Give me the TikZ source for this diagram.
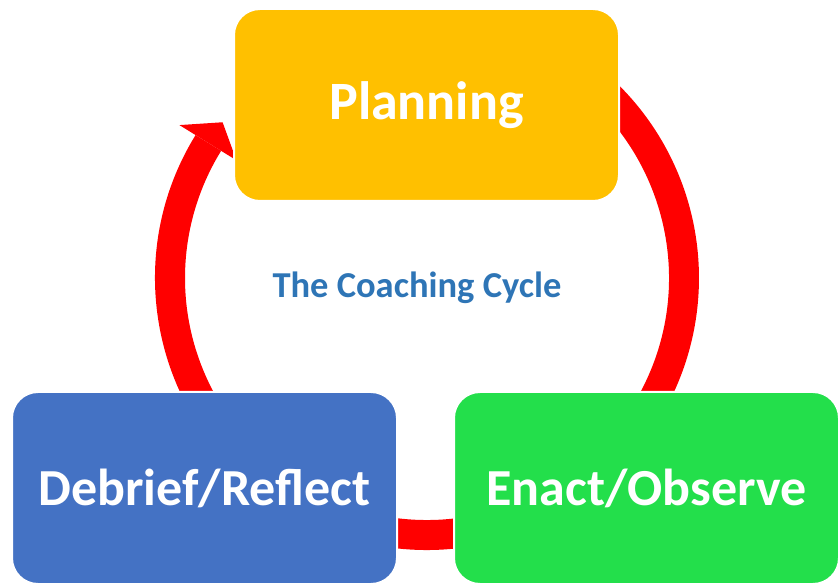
\documentclass[tikz,border=0pt]{standalone}
\usepackage{fontspec}
\setmainfont{Carlito}
\usetikzlibrary{calc}
\begin{document}
\begin{tikzpicture}[x=1pt,y=1pt,
  stage/.style={rounded corners=26pt, draw=white, line width=2pt,
    minimum width=385pt, minimum height=192pt, inner sep=0pt,
    text=white, font=\bfseries\fontsize{52}{60}\selectfont},
  ring/.style={fill=red}]
\useasboundingbox (0,0) rectangle (838,584);
% cycle ring with arrowhead, centre (427,306)
\coordinate (c) at (427,306);
\fill[ring] ($(c)+(148.3:272)$) arc[start angle=148.3, end angle=420, radius=272]
  -- ($(c)+(420:242)$) arc[start angle=420, end angle=148.3, radius=242] -- cycle;
\fill[ring] ($(c)+(148.3:224)$) -- ($(c)+(142.7:257)$) -- ($(c)+(148.3:291)$) -- cycle;
% stages
\node[stage, fill={rgb,255:red,255;green,192;blue,0}] (plan) at (426.5,479) {\fontsize{54}{60}\selectfont Planning};
\node[stage, fill={rgb,255:red,68;green,114;blue,196}] (debrief) at (204.5,96) {Debrief/Reflect};
\node[stage, fill={rgb,255:red,35;green,223;blue,75}] (enact) at (646.5,96) {Enact/Observe};
% centre label
\node[text={rgb,255:red,46;green,117;blue,182}, font=\bfseries\fontsize{36.5}{42}\selectfont] (title) at (417,296) {The Coaching Cycle};
\end{tikzpicture}
\end{document}
